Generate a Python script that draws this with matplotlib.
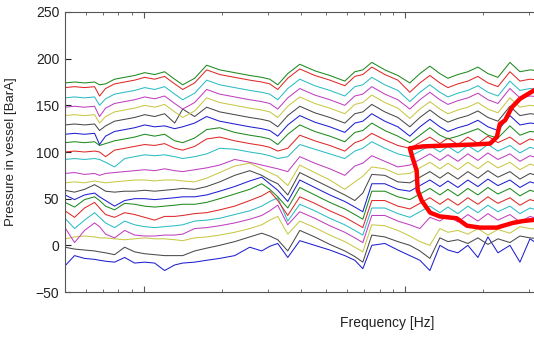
import matplotlib
matplotlib.use('Agg')
import matplotlib.pyplot as plt

# Frequency grid (Hz) shared by every pressure run
freq_hz = [5.0, 5.44, 5.94, 6.49, 6.78, 7.15, 7.74, 8.46, 9.24, 10.09,
           11.02, 12.03, 13.15, 14.11, 15.68, 17.43, 19.55, 22.32, 25.48, 28.32,
           30.40, 32.62, 35.63, 39.61, 45.20, 51.61, 58.90, 64.36, 69.05, 74.73,
           83.83, 94.02, 104.5, 114.2, 124.7, 136.2, 146.2, 159.6, 174.3, 190.4,
           208.0, 227.2, 252.5, 275.8, 301.3, 329.0]

# Offset spectra, bottom (lowest pressure) to top
run_00 = [-22, -11, -14, -15, -16, -17, -18, -13, -19, -18, -19, -27, -21, -19,
          -18, -16, -14, -11, -2, -6, -1, 2, -13, 5, 0, -5, -11, -16, -25, 0, 2, -5,
          -11, -16, -27, 0, -5, -8, 0, -13, 9, -8, 0, -18, 7, 0]
run_01 = [-2, -4, -5, -6, -7, -8, -10, -2, -7, -9, -10, -11, -11, -11,
          -6, -3, 0, 4, 9, 13, 10, 6, -6, 16, 9, 1, -6, -12, -18, 11, 9, 4,
          0, -6, -14, 8, 4, 6, 2, 8, 1, 7, 3, 10, 8, 7]
run_02 = [7, 9, 10, 9, 8, 8, 7, 6, 7, 8, 7, 7, 6, 5,
          8, 9, 11, 14, 18, 22, 27, 31, 12, 26, 19, 11, 4, -2, -7, 22, 21, 16,
          10, 4, 0, 18, 14, 16, 12, 18, 11, 17, 13, 20, 18, 17]
run_03 = [19, 3, 16, 24, 20, 12, 8, 16, 11, 10, 10, 11, 11, 12,
          18, 19, 21, 24, 28, 32, 37, 43, 22, 36, 29, 21, 14, 8, 3, 32, 32, 26,
          22, 18, 30, 26, 32, 25, 33, 26, 34, 27, 33, 25, 31, 28]
run_04 = [29, 18, 27, 35, 30, 24, 19, 26, 22, 20, 19, 20, 21, 22,
          26, 27, 29, 33, 37, 42, 47, 51, 26, 44, 37, 29, 22, 16, 11, 40, 40, 34,
          30, 36, 42, 35, 41, 34, 42, 35, 43, 36, 42, 34, 40, 37]
run_05 = [37, 30, 40, 46, 40, 33, 30, 35, 33, 30, 27, 31, 31, 32,
          34, 35, 38, 42, 48, 53, 58, 48, 32, 52, 45, 37, 30, 24, 19, 48, 48, 42,
          39, 45, 51, 44, 50, 43, 51, 44, 52, 45, 51, 43, 49, 46]
run_06 = [46, 41, 49, 52, 48, 42, 38, 45, 44, 42, 41, 42, 43, 44,
          44, 46, 50, 55, 60, 66, 60, 52, 40, 62, 54, 46, 39, 33, 28, 58, 58, 52,
          49, 55, 61, 54, 60, 53, 61, 54, 62, 55, 61, 53, 59, 56]
run_07 = [54, 49, 54, 56, 52, 48, 42, 48, 50, 50, 49, 50, 51, 52,
          52, 54, 58, 63, 69, 73, 66, 59, 47, 70, 62, 54, 47, 41, 36, 66, 66, 60,
          58, 64, 70, 63, 69, 62, 70, 63, 71, 64, 70, 62, 68, 65]
run_08 = [59, 57, 60, 65, 62, 58, 57, 58, 58, 59, 58, 59, 60, 61,
          60, 63, 68, 75, 80, 75, 70, 66, 54, 78, 70, 62, 54, 48, 56, 76, 75, 68,
          67, 73, 79, 72, 78, 71, 79, 72, 80, 73, 79, 71, 77, 74]
run_09 = [67, 68, 67, 69, 68, 67, 68, 69, 70, 70, 69, 70, 70, 69,
          68, 72, 78, 85, 88, 82, 78, 74, 64, 86, 78, 70, 60, 68, 74, 84, 82, 76,
          77, 83, 89, 82, 88, 81, 89, 82, 90, 83, 89, 81, 87, 84]
run_10 = [77, 78, 76, 77, 75, 77, 78, 79, 80, 81, 80, 82, 80, 79,
          81, 83, 86, 92, 89, 86, 84, 82, 79, 95, 88, 82, 75, 85, 88, 96, 90, 84,
          86, 92, 98, 91, 97, 90, 98, 91, 99, 92, 98, 90, 96, 93]
run_11 = [92, 93, 92, 93, 92, 89, 84, 93, 95, 97, 96, 97, 95, 93,
          95, 98, 104, 103, 100, 98, 96, 93, 95, 108, 103, 98, 93, 101, 104, 111, 104, 98,
          95, 101, 107, 100, 106, 99, 107, 100, 108, 101, 107, 99, 105, 102]
run_12 = [100, 101, 100, 101, 100, 95, 102, 104, 106, 108, 107, 109, 104, 102,
          106, 114, 116, 112, 109, 107, 105, 101, 104, 118, 112, 107, 101, 110, 113, 120, 113, 107,
          104, 110, 116, 109, 115, 108, 116, 109, 117, 110, 116, 108, 114, 111]
run_13 = [110, 111, 110, 111, 107, 109, 112, 114, 116, 119, 117, 119, 112, 110,
          115, 124, 126, 121, 118, 116, 114, 108, 119, 129, 122, 117, 111, 121, 123, 131, 123, 117,
          110, 118, 126, 118, 114, 117, 121, 125, 118, 115, 128, 118, 122, 121]
run_14 = [119, 120, 119, 120, 108, 117, 122, 124, 126, 129, 127, 128, 125, 127,
          131, 138, 133, 130, 127, 125, 123, 117, 129, 139, 132, 127, 121, 131, 133, 141, 133, 127,
          117, 127, 135, 127, 122, 126, 129, 134, 127, 123, 139, 129, 131, 130]
run_15 = [129, 130, 129, 130, 123, 128, 133, 135, 137, 140, 138, 141, 131, 146,
          138, 148, 143, 140, 137, 135, 133, 127, 139, 149, 142, 137, 131, 141, 143, 151, 143, 137,
          127, 137, 145, 137, 132, 136, 139, 144, 137, 133, 149, 139, 141, 140]
run_16 = [139, 140, 139, 140, 131, 138, 143, 145, 147, 150, 148, 151, 143, 137,
          144, 158, 153, 150, 147, 145, 143, 137, 149, 159, 152, 147, 141, 151, 153, 161, 153, 147,
          136, 146, 154, 146, 141, 145, 148, 153, 146, 142, 158, 148, 150, 149]
run_17 = [148, 149, 148, 149, 138, 147, 152, 154, 156, 159, 157, 160, 152, 146,
          153, 167, 162, 159, 156, 154, 152, 146, 158, 168, 161, 156, 150, 160, 162, 170, 162, 156,
          146, 156, 164, 156, 151, 155, 158, 163, 156, 152, 168, 158, 160, 159]
run_18 = [158, 159, 158, 159, 150, 157, 162, 164, 166, 169, 167, 170, 162, 156,
          163, 177, 172, 169, 166, 164, 162, 156, 168, 178, 171, 166, 160, 170, 172, 180, 172, 166,
          154, 164, 172, 164, 159, 163, 166, 171, 164, 160, 176, 166, 168, 167]
run_19 = [169, 170, 169, 170, 160, 168, 173, 175, 177, 180, 178, 181, 173, 167,
          174, 188, 183, 180, 177, 175, 173, 167, 179, 189, 182, 177, 171, 181, 183, 191, 183, 177,
          164, 174, 182, 174, 169, 173, 176, 181, 174, 170, 186, 176, 178, 177]
run_20 = [174, 175, 174, 175, 172, 173, 178, 180, 182, 185, 183, 186, 178, 172,
          179, 193, 188, 185, 182, 180, 178, 172, 184, 194, 187, 182, 176, 186, 188, 196, 188, 182,
          174, 184, 192, 184, 179, 183, 186, 191, 184, 180, 196, 186, 188, 187]

runs = [run_00, run_01, run_02, run_03, run_04, run_05, run_06, run_07, run_08, run_09, run_10,
        run_11, run_12, run_13, run_14, run_15, run_16, run_17, run_18, run_19, run_20]

# MATLAB style line colours, bottom run is blue
run_colors = ['#1f1fd0', '#4a4a4a', '#c8c846', '#c040c0', '#2cbcc4', '#e02828', '#1e8a1e']

# Hand drawn red outline (annotation)
outline_hz = [329, 312, 276, 257, 242, 231, 225, 212, 182, 145, 117, 104.5, 107, 111,
              112, 116, 125, 136, 158, 173, 194, 225, 259, 283, 329]
outline_bar = [170, 166, 157, 148, 134, 130, 116, 109, 108, 107, 106, 104, 94, 80,
               59, 48, 35, 31, 29, 21, 19, 19, 24, 26, 28]


def main():
    plt.rcParams['font.family'] = ['Liberation Sans', 'DejaVu Sans']
    fig = plt.figure(figsize=(5.34, 3.37), dpi=100)
    # the axes run past the right edge, the original picture was cropped
    ax = fig.add_axes([0.1217, 0.1335, 1.206, 0.8309])

    for i, run in enumerate(runs):
        ax.plot(freq_hz, run, color=run_colors[i % len(run_colors)], linewidth=0.75)

    ax.plot(outline_hz, outline_bar, color='#ff0000', linewidth=3.2,
            solid_capstyle='round', solid_joinstyle='round')

    ax.set_xscale('log')
    ax.set_xlim(5, 1460)
    ax.set_ylim(-50, 250)
    ax.set_yticks([-50, 0, 50, 100, 150, 200, 250])

    ax.tick_params(axis='both', which='both', direction='in', top=True, right=True,
                   labelbottom=False, color='#555555')
    ax.tick_params(axis='both', which='major', length=4)
    ax.tick_params(axis='x', which='minor', length=2.5)
    ax.tick_params(axis='y', labelsize=10, pad=4, colors='#222222')
    for spine in ax.spines.values():
        spine.set_color('#555555')
        spine.set_linewidth(0.8)

    ax.set_ylabel('Pressure in vessel [BarA]', fontsize=9.5, color='#222222')
    ax.yaxis.set_label_coords(-0.075, 0.5)
    ax.set_xlabel('Frequency [Hz]', fontsize=10, color='#222222')
    ax.xaxis.set_label_coords(0.5, -0.085)

    fig.savefig('out.png', dpi=100)


if __name__ == "__main__":
    main()
